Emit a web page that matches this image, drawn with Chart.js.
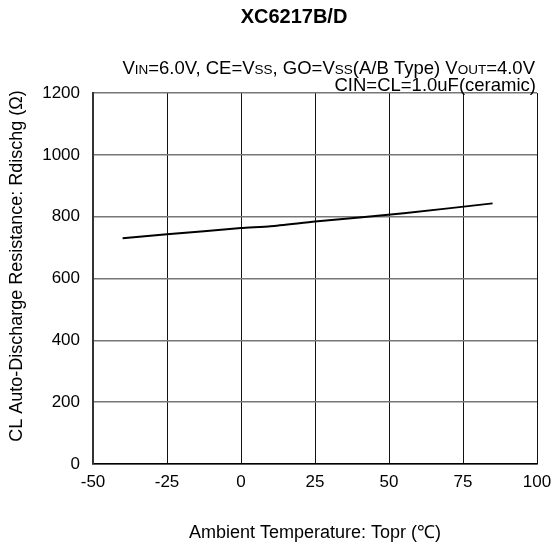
<!DOCTYPE html>
<html>
<head>
<meta charset="utf-8">
<script src="https://cdn.jsdelivr.net/npm/chart.js@4"></script>
<style>
  html, body { margin:0; padding:0; background:#fff; }
  #wrap { width:553px; height:547px; }
</style>
</head>
<body>
<div id="wrap"><canvas id="c" width="553" height="547"></canvas></div>
<script>
// XC6217B/D — Rdischg vs Topr
const temps = [-40, -25, 0, 10, 25, 55, 85];
const rdis  = [730, 743, 763, 769, 784, 811, 843];
const xTicks = [-50, -25, 0, 25, 50, 75, 100];
const yTicks = [0, 200, 400, 600, 800, 1000, 1200];

const FONT = '"Liberation Sans", Arial, sans-serif';

// header: title + conditions, with the small-caps subscripts
const headerPlugin = {
  id: 'header',
  afterDraw(chart){
    const ctx = chart.ctx;
    ctx.save();
    ctx.fillStyle = '#000';
    ctx.textBaseline = 'alphabetic';

    ctx.font = 'bold 20px ' + FONT;
    ctx.textAlign = 'center';
    ctx.fillText('XC6217B/D', 294, 23);

    const big = '18.5px ' + FONT, small = '13.5px ' + FONT;
    const segs = [
      ['V', big], ['IN', small], ['=6.0V, CE=V', big], ['SS', small],
      [', GO=V', big], ['SS', small], ['(A/B Type) V', big], ['OUT', small], ['=4.0V', big]
    ];
    ctx.textAlign = 'left';
    let w = 0;
    for (const [t, f] of segs){ ctx.font = f; w += ctx.measureText(t).width; }
    let x = 535 - w;
    for (const [t, f] of segs){ ctx.font = f; ctx.fillText(t, x, 74); x += ctx.measureText(t).width; }

    ctx.font = big;
    ctx.textAlign = 'right';
    ctx.fillText('CIN=CL=1.0uF(ceramic)', 536, 91);

    // y axis title
    ctx.translate(17, 266);
    ctx.rotate(-Math.PI/2);
    ctx.textAlign = 'center';
    ctx.textBaseline = 'middle';
    ctx.font = '18px ' + FONT;
    ctx.fillText('CL Auto-Discharge Resistance: Rdischg (Ω)', 0, 0);
    ctx.restore();
  }
};

new Chart(document.getElementById('c'), {
  type: 'line',
  data: {
    datasets: [{
      data: temps.map((t, i) => ({ x: t, y: rdis[i] })),
      borderColor: '#000',
      borderWidth: 2,
      pointRadius: 0,
      tension: 0.2,
      fill: false
    }]
  },
  options: {
    responsive: false,
    animation: false,
    layout: { padding: { top: 93, right: 16, left: 0, bottom: 0 } },
    plugins: { legend: { display: false }, tooltip: { enabled: false } },
    scales: {
      x: {
        type: 'linear', min: -50, max: 100,
        afterBuildTicks: (s) => { s.ticks = xTicks.map(v => ({ value: v })); },
        afterFit: (s) => { s.height = 83; s.paddingLeft = 0; s.paddingRight = 0; },
        ticks: { color: '#000', font: { family: FONT, size: 17 }, padding: 8 },
        grid: { color: '#111', lineWidth: 1, drawTicks: false },
        border: { color: '#000', width: 1.5 },
        title: { display: true, text: 'Ambient Temperature: Topr (℃)', color: '#000',
                 font: { family: FONT, size: 18 }, padding: { top: 0, bottom: 3 } }
      },
      y: {
        min: 0, max: 1200,
        afterBuildTicks: (s) => { s.ticks = yTicks.map(v => ({ value: v })); },
        afterFit: (s) => { s.width = 93; s.paddingTop = 0; s.paddingBottom = 0; },
        ticks: { color: '#000', font: { family: FONT, size: 17 }, padding: 13,
                 callback: (v) => String(v) },
        grid: { color: '#777', lineWidth: 1.5, drawTicks: false },
        border: { color: '#333', width: 2 }
      }
    }
  },
  plugins: [headerPlugin]
});
</script>
</body>
</html>
